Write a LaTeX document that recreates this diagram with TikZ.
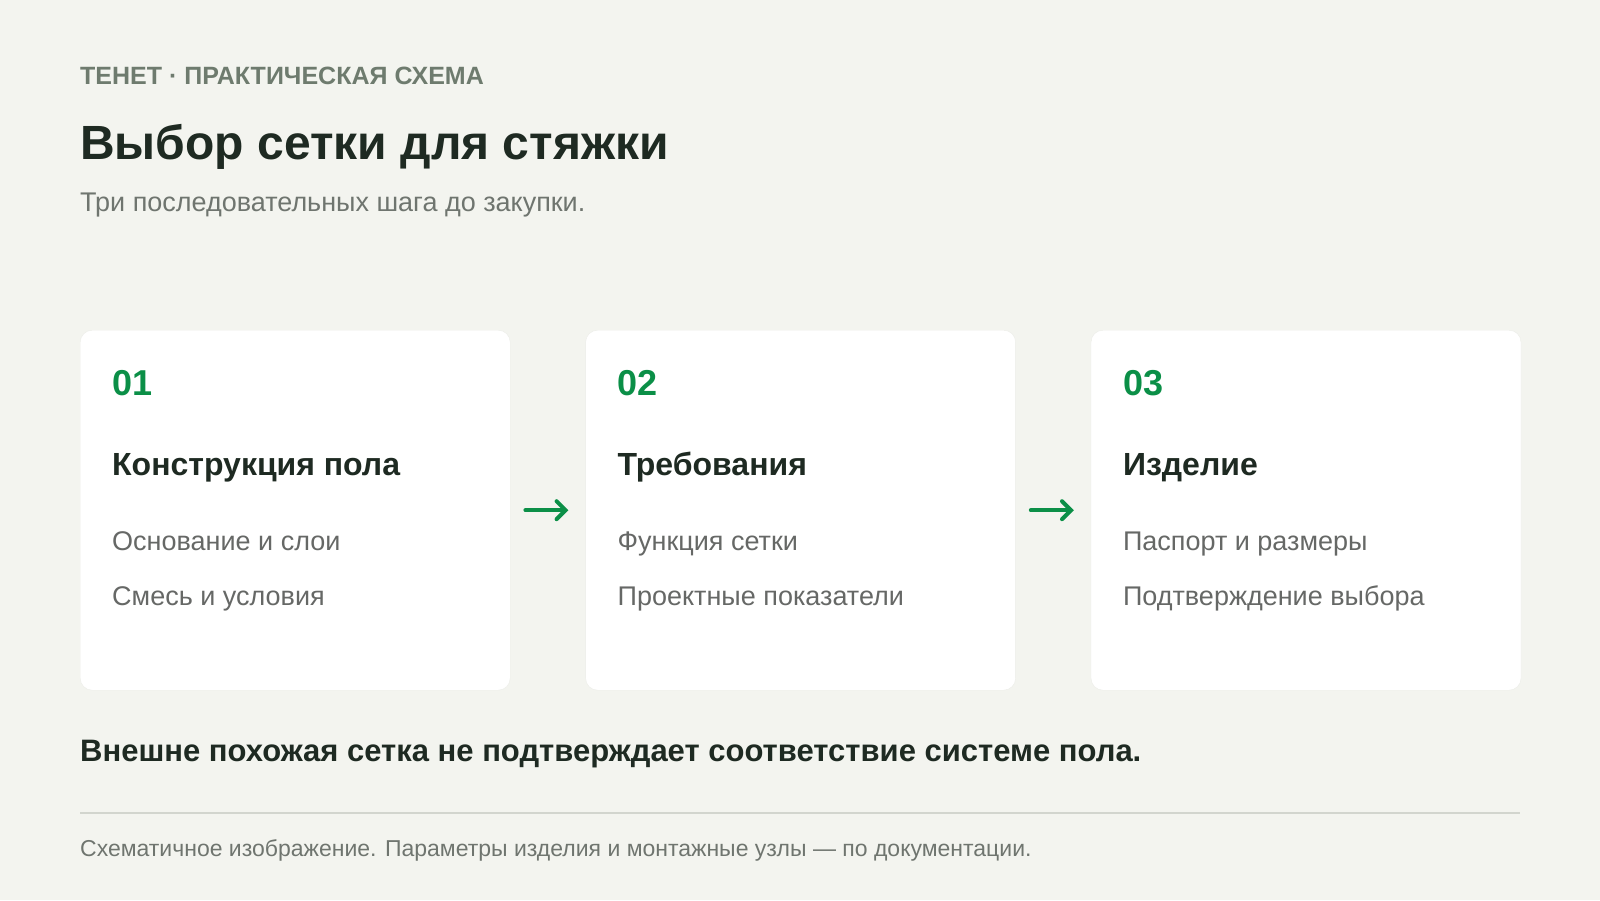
\documentclass[tikz,border=0pt]{standalone}
\usepackage{fontspec}
\setmainfont{Liberation Sans}
\usetikzlibrary{positioning, arrows.meta, calc}

\definecolor{pagebg}{HTML}{F3F4EF}
\definecolor{kickergray}{HTML}{6E7B6E}
\definecolor{titledark}{HTML}{1E2A22}
\definecolor{subgray}{HTML}{6F756F}
\definecolor{stepgreen}{HTML}{0B8F47}
\definecolor{itemgray}{HTML}{666866}
\definecolor{cardedge}{HTML}{ECEDE8}
\definecolor{rulegray}{HTML}{D2D5CE}

\begin{document}
\begin{tikzpicture}[x=1pt,y=-1pt]
		\tikzset{
			>={Straight Barb[length=9pt,width=18pt,line cap=round]},
			card/.style={draw=cardedge, fill=white, rounded corners=12pt, minimum width=430pt, minimum height=360pt, inner sep=0pt},
			num/.style={anchor=base west, inner sep=0pt, text=stepgreen, font=\fontsize{36}{40}\selectfont\bfseries},
			heading/.style={anchor=base west, inner sep=0pt, text=titledark, font=\fontsize{32}{36}\selectfont\bfseries},
			item/.style={anchor=base west, inner sep=0pt, text=itemgray, font=\fontsize{27}{31}\selectfont},
			flow/.style={->, draw=stepgreen, line width=4pt, line cap=round, shorten <=15pt, shorten >=17pt}
		}
		
		% Page
		\fill[pagebg] (0,0) rectangle (1600,900);
		\useasboundingbox (0,0) rectangle (1600,900);
		
		% Header
		\node[anchor=base west, inner sep=0pt, text=kickergray, font=\fontsize{25}{29}\selectfont\bfseries] (kicker) at (80,84) {ТЕНЕТ · ПРАКТИЧЕСКАЯ СХЕМА};
		\node[anchor=base west, inner sep=0pt, text=titledark, font=\fontsize{48}{54}\selectfont\bfseries] (title) at (80,159) {Выбор сетки для стяжки};
		\node[anchor=base west, inner sep=0pt, text=subgray, font=\fontsize{27}{31}\selectfont] (subtitle) at (80,211) {Три последовательных шага до закупки.};
		
		% Cards
		\node[card, anchor=north west] (c1) at (80,330) {};
		\node[card, right=75pt of c1] (c2) {};
		\node[card, right=75pt of c2] (c3) {};
		
		% Step 1
		\node[num] (n1) at ($(c1.north west)+(32,65)$) {01};
		\node[heading] (h1) at ($(c1.north west)+(32,145)$) {Конструкция пола};
		\node[item] (a1) at ($(c1.north west)+(32,220)$) {Основание и слои};
		\node[item] (b1) at ($(c1.north west)+(32,275)$) {Смесь и условия};
		
		% Step 2
		\node[num] (n2) at ($(c2.north west)+(32,65)$) {02};
		\node[heading] (h2) at ($(c2.north west)+(32,145)$) {Требования};
		\node[item] (a2) at ($(c2.north west)+(32,220)$) {Функция сетки};
		\node[item] (b2) at ($(c2.north west)+(32,275)$) {Проектные показатели};
		
		% Step 3
		\node[num] (n3) at ($(c3.north west)+(32,65)$) {03};
		\node[heading] (h3) at ($(c3.north west)+(32,145)$) {Изделие};
		\node[item] (a3) at ($(c3.north west)+(32,220)$) {Паспорт и размеры};
		\node[item] (b3) at ($(c3.north west)+(32,275)$) {Подтверждение выбора};
		
		% Arrows
		\draw[flow] (c1) -- (c2);
		\draw[flow] (c2) -- (c3);
		
		% Note and footer
		\node[anchor=base west, inner sep=0pt, text=titledark, font=\fontsize{31}{35}\selectfont\bfseries] (note) at (80,761) {Внешне похожая сетка не подтверждает соответствие системе пола.};
		\coordinate (ruleL) at (80,813);
		\coordinate (ruleR) at (1520,813);
		\draw[rulegray, line width=1.5pt] (ruleL) -- (ruleR);
		\node[anchor=base west, inner sep=0pt, text=subgray, font=\fontsize{23}{27}\selectfont] (footer) at (80,856) {Схематичное изображение. Параметры изделия и монтажные узлы — по документации.};
		
	\end{tikzpicture}
\end{document}
